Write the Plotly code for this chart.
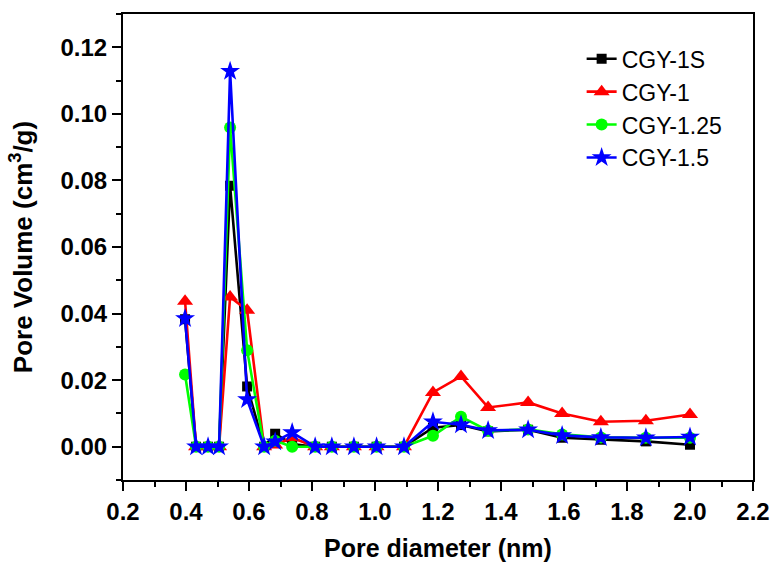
import plotly.graph_objects as go

pore_diameter = [0.397, 0.432, 0.470, 0.505, 0.540, 0.594, 0.648, 0.683, 0.737,
                 0.810, 0.863, 0.933, 1.005, 1.092, 1.184, 1.273, 1.359, 1.486,
                 1.594, 1.717, 1.860, 2.0]

cgy_1s = [0.0383, 0, 0, 0, 0.0784, 0.0181, 0, 0.0039, 0.0008,
          0, 0, 0, 0, 0, 0.0057, 0.0065, 0.0046, 0.0051,
          0.0027, 0.0021, 0.0016, 0.0006]
cgy_1 = [0.0437, 0, 0, 0, 0.0450, 0.0410, 0, 0.0005, 0.0027,
         0, 0, 0, 0, 0, 0.0163, 0.0211, 0.0118, 0.0133,
         0.0100, 0.0075, 0.0078, 0.0097]
cgy_125 = [0.0217, 0, 0, 0, 0.0959, 0.0290, 0, 0.0018, 0,
           0, 0, 0, 0, 0, 0.0033, 0.0090, 0.0048, 0.0052,
           0.0037, 0.0028, 0.0027, 0.0027]
cgy_15 = [0.0385, 0, 0, 0, 0.1128, 0.0142, 0, 0.0015, 0.0043,
          0, 0, 0, 0, 0, 0.0075, 0.0066, 0.0049, 0.0051,
          0.0034, 0.0028, 0.0027, 0.0029]

x_ticks = [0.2, 0.4, 0.6, 0.8, 1.0, 1.2, 1.4, 1.6, 1.8, 2.0, 2.2]
y_ticks = [0.00, 0.02, 0.04, 0.06, 0.08, 0.10, 0.12]

series = [
    ("CGY-1S", cgy_1s, "#000000", "square", 10),
    ("CGY-1", cgy_1, "#FF0000", "triangle-up", 14),
    ("CGY-1.25", cgy_125, "#00FF00", "circle", 12),
    ("CGY-1.5", cgy_15, "#0000FF", "star", 15),
]

FONT = "Liberation Sans, Arial, sans-serif"

fig = go.Figure()
for name, vals, color, sym, size in series:
    fig.add_trace(go.Scatter(
        x=pore_diameter, y=vals, name=name, mode="lines+markers",
        line=dict(color=color, width=2.6),
        marker=dict(symbol=sym, size=size, color=color, line=dict(width=0)),
    ))

axis_common = dict(
    showgrid=False, zeroline=False, showline=True, linecolor="black",
    linewidth=2, mirror=True, ticks="outside", ticklen=9, tickwidth=2,
    tickcolor="black", automargin=False, ticklabeloverflow="allow",
    tickfont=dict(family=FONT, size=24, color="black", weight="bold"),
)

fig.update_xaxes(
    range=[0.2, 2.2], tickmode="array", tickvals=x_ticks,
    ticktext=[f"{v:.1f}" for v in x_ticks],
    minor=dict(ticks="outside", ticklen=5, tickwidth=2, dtick=0.1, tick0=0.2,
               tickcolor="black"),
    title=dict(text="Pore diameter (nm)", standoff=16,
               font=dict(family=FONT, size=25, color="black", weight="bold")),
    **axis_common,
)
fig.update_yaxes(
    range=[-0.01, 0.13], tickmode="array", tickvals=y_ticks,
    ticktext=[f"{v:.2f}" for v in y_ticks],
    minor=dict(ticks="outside", ticklen=5, tickwidth=2, dtick=0.01, tick0=0,
               tickcolor="black"),
    title=dict(text="Pore Volume (cm<sup>3</sup>/g)", standoff=20,
               font=dict(family=FONT, size=26, color="black", weight="bold")),
    **axis_common,
)

fig.update_layout(
    width=774, height=564,
    margin=dict(l=123, r=21, t=14, b=84),
    paper_bgcolor="white", plot_bgcolor="white",
    legend=dict(x=0.728, y=0.95, xanchor="left", yanchor="top",
                bgcolor="rgba(0,0,0,0)",
                font=dict(family=FONT, size=23, color="black")),
)

fig.write_html("out.html")
